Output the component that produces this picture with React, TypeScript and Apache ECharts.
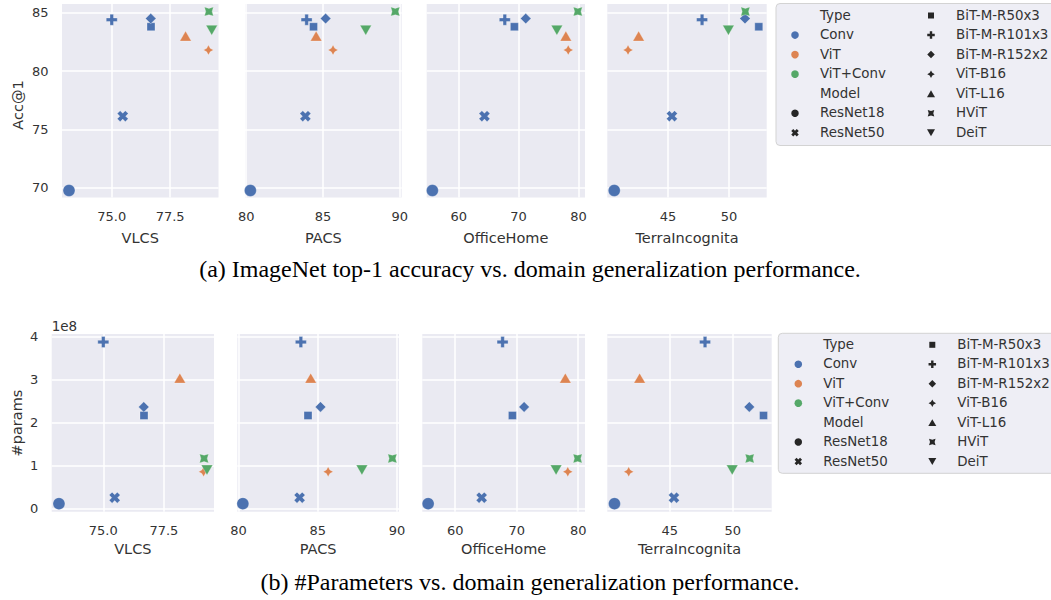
import React, { useEffect, useRef } from "react";
import * as echarts from "echarts";

// ---------------- data ----------------
const models = [
  "ResNet18",
  "ResNet50",
  "BiT-M-R50x3",
  "BiT-M-R101x3",
  "BiT-M-R152x2",
  "ViT-B16",
  "ViT-L16",
  "HViT",
  "DeiT",
];
const modelTypes = ["Conv", "Conv", "Conv", "Conv", "Conv", "ViT", "ViT", "ViT+Conv", "ViT+Conv"];
const typeNames = ["Conv", "ViT", "ViT+Conv"];

const acc1 = [69.76, 76.13, 83.8, 84.4, 84.5, 81.8, 83.0, 85.1, 83.5];
const numParams = [11.7e6, 25.6e6, 217e6, 388e6, 237e6, 86e6, 304e6, 117e6, 90e6];

const datasetNames = ["VLCS", "PACS", "OfficeHome", "TerraIncognita"];
const vlcs = [73.17, 75.47, 76.68, 75.0, 76.67, 79.14, 78.16, 79.16, 79.28];
const pacs = [80.27, 83.85, 84.38, 83.93, 85.17, 85.65, 84.55, 89.7, 87.78];
const officeHome = [55.6, 64.3, 69.3, 67.7, 71.2, 78.3, 77.9, 79.9, 76.4];
const terraIncognita = [40.6, 45.33, 52.45, 47.8, 51.32, 41.73, 42.6, 51.35, 49.96];

const xTickValues = [[75, 77.5], [80, 85, 90], [60, 70, 80], [45, 50]];
const xTickDecimals = [1, 0, 0, 0];
const accTicks = [70, 75, 80, 85];
const paramTicks = [0, 1e8, 2e8, 3e8, 4e8];

const yNames = ["Acc@1", "#params"];
const captions = [
  "(a) ImageNet top-1 accuracy vs. domain generalization performance.",
  "(b) #Parameters vs. domain generalization performance.",
];

// ---------------- layout / style ----------------
const datasetScores = [vlcs, pacs, officeHome, terraIncognita];
const rowValues = [acc1, numParams];
const rowTickValues = [accTicks, paramTicks];

const COLORS: Record<string, string> = { Conv: "#4C72B0", ViT: "#DD8452", "ViT+Conv": "#55A868" };
const FONT = "DejaVu Sans";
const TXT = "#333333";
const BG = "#EAEAF2";

const rowTop = [4, 334];
const rowHeight = [193.5, 177.7];
const gridLefts = [
  [62, 245, 426.7, 607.3],
  [51.7, 237.3, 422.3, 607.3],
];
const gridWidths = [
  [156.5, 156.7, 158.3, 159.4],
  [162.3, 161.7, 162.7, 164.4],
];
const xRanges = [
  [72.87, 79.57],
  [79.92, 90.12],
  [54.65, 81.1],
  [40.03, 53.1],
];
const yRanges = [
  [69.16, 85.75],
  [-7.1e6, 4.068e8],
];
const xNameGap = [33, 30];

type Pt = [number, number];
const plusPts = (w: number): Pt[] => [
  [-w, -1], [w, -1], [w, -w], [1, -w], [1, w], [w, w],
  [w, 1], [-w, 1], [-w, w], [-1, w], [-1, -w], [-w, -w],
];
const rotPts = (pts: Pt[], deg: number): Pt[] => {
  const a = (deg * Math.PI) / 180;
  const c = Math.cos(a);
  const s = Math.sin(a);
  return pts.map(([x, y]) => [x * c - y * s, x * s + y * c] as Pt);
};
const starPts = (n: number, inner: number, deg: number): Pt[] => {
  const out: Pt[] = [];
  for (let k = 0; k < 2 * n; k++) {
    const r = k % 2 ? inner : 1;
    const a = ((deg + (k * 180) / n - 90) * Math.PI) / 180;
    out.push([r * Math.cos(a), r * Math.sin(a)]);
  }
  return out;
};
const triUp: Pt[] = [[0, -1], [0.866, 0.5], [-0.866, 0.5]];
const triDown: Pt[] = triUp.map(([x, y]) => [x, -y] as Pt);
const diamondPts: Pt[] = [[0, -1], [1, 0], [0, 1], [-1, 0]];
const squarePts: Pt[] = [[-1, -1], [1, -1], [1, 1], [-1, 1]];

// marker per model (same order as models)
const markerShapes: (Pt[] | "circle")[] = [
  "circle",
  rotPts(plusPts(0.36), 45),
  squarePts,
  plusPts(0.32),
  diamondPts,
  starPts(4, 0.5, 0),
  triUp,
  starPts(4, 0.5, 45),
  triDown,
];
const markerSizes = [12, 11, 8, 11, 10.5, 10, 11.5, 9, 11.5];

const toPath = (pts: Pt[]) =>
  "path://" + pts.map((p, i) => (i ? "L" : "M") + (p[0] * 10).toFixed(3) + " " + (p[1] * 10).toFixed(3)).join(" ") + " Z";

const symbolOf = (i: number) => {
  const s = markerShapes[i];
  return s === "circle" ? "circle" : toPath(s);
};

function markerGraphic(i: number, cx: number, cy: number, size: number, fill: string): any {
  const s = markerShapes[i];
  if (s === "circle") {
    return { type: "circle", shape: { cx, cy, r: size / 2 }, style: { fill }, silent: true };
  }
  const xs = s.map((p) => p[0]);
  const ys = s.map((p) => p[1]);
  const minX = Math.min(...xs), maxX = Math.max(...xs);
  const minY = Math.min(...ys), maxY = Math.max(...ys);
  const k = size / Math.max(maxX - minX, maxY - minY);
  const mx = (minX + maxX) / 2, my = (minY + maxY) / 2;
  return {
    type: "polygon",
    shape: { points: s.map(([x, y]) => [cx + (x - mx) * k, cy + (y - my) * k]) },
    style: { fill },
    silent: true,
  };
}

const legendLayouts = [
  { boxX: 776, boxY: 3.5, boxH: 142, y0: 15, dy: 19.55, s1: 795, t1: 820, s2: 931, t2: 956 },
  { boxX: 778.3, boxY: 333.3, boxH: 140, y0: 344.3, dy: 19.45, s1: 798.3, t1: 823.3, s2: 932.3, t2: 957.3 },
];
const legendMarkerSizes = [7.5, 7.5, 6, 7.5, 7.5, 7.5, 8, 6.5, 8];

function legendGraphics(L: (typeof legendLayouts)[number]): any[] {
  const els: any[] = [];
  els.push({
    type: "rect",
    shape: { x: L.boxX, y: L.boxY, width: 300, height: L.boxH, r: 4 },
    style: { fill: "#EEEEF5", stroke: "#D3D3D3", lineWidth: 1 },
    silent: true,
  });
  const textEl = (x: number, y: number, text: string) => ({
    type: "text",
    x,
    y,
    style: {
      text,
      fill: TXT,
      font: `13.4px "${FONT}"`,
      fontSize: 13.4,
      fontFamily: FONT,
      align: "left",
      verticalAlign: "middle",
      textAlign: "left",
      textVerticalAlign: "middle",
    },
    silent: true,
  });
  // column 1: Type header, types, Model header, first two models
  const col1: { label: string; kind: "header" | "type" | "model"; idx: number }[] = [
    { label: "Type", kind: "header", idx: -1 },
    ...typeNames.map((t, i) => ({ label: t, kind: "type" as const, idx: i })),
    { label: "Model", kind: "header", idx: -1 },
    { label: models[0], kind: "model", idx: 0 },
    { label: models[1], kind: "model", idx: 1 },
  ];
  col1.forEach((e, r) => {
    const y = L.y0 + r * L.dy;
    if (e.kind === "type") {
      els.push({ type: "circle", shape: { cx: L.s1, cy: y + 0.5, r: 3.8 }, style: { fill: COLORS[typeNames[e.idx]] }, silent: true });
    } else if (e.kind === "model") {
      els.push(markerGraphic(e.idx, L.s1, y + 0.5, legendMarkerSizes[e.idx], "#262626"));
    }
    els.push(textEl(L.t1, y, e.label));
  });
  models.slice(2).forEach((m, r) => {
    const idx = r + 2;
    const y = L.y0 + r * L.dy;
    els.push(markerGraphic(idx, L.s2, y + 0.5, legendMarkerSizes[idx], "#262626"));
    els.push(textEl(L.t2, y, m));
  });
  return els;
}

function buildOption(): any {
  const grid: any[] = [];
  const xAxis: any[] = [];
  const yAxis: any[] = [];
  const series: any[] = [];
  for (let r = 0; r < 2; r++) {
    for (let c = 0; c < 4; c++) {
      const gi = r * 4 + c;
      grid.push({
        left: gridLefts[r][c],
        top: rowTop[r],
        width: gridWidths[r][c],
        height: rowHeight[r],
        show: true,
        backgroundColor: BG,
        borderWidth: 0,
        containLabel: false,
      });
      xAxis.push({
        type: "value",
        gridIndex: gi,
        min: xRanges[c][0],
        max: xRanges[c][1],
        name: datasetNames[c],
        nameLocation: "middle",
        nameGap: xNameGap[r],
        nameTextStyle: { color: TXT, fontSize: 14.5, fontFamily: FONT },
        axisLine: { show: false },
        axisTick: { show: false, customValues: xTickValues[c] },
        axisLabel: {
          customValues: xTickValues[c],
          formatter: (v: number) => v.toFixed(xTickDecimals[c]),
          color: TXT,
          fontSize: 13,
          fontFamily: FONT,
          margin: 12,
        },
        splitLine: { show: true, lineStyle: { color: "#FFFFFF", width: 1.5 } },
      });
      yAxis.push({
        type: "value",
        gridIndex: gi,
        min: yRanges[r][0],
        max: yRanges[r][1],
        axisLine: { show: false },
        axisTick: { show: false, customValues: rowTickValues[r] },
        axisLabel: {
          show: c === 0,
          customValues: rowTickValues[r],
          formatter: (v: number) => (r === 0 ? String(v) : String(Math.round(v / 1e8))),
          color: TXT,
          fontSize: 13,
          fontFamily: FONT,
          margin: 13.5,
        },
        splitLine: { show: true, lineStyle: { color: "#FFFFFF", width: 1.5 } },
      });
      series.push({
        type: "scatter",
        xAxisIndex: gi,
        yAxisIndex: gi,
        silent: true,
        symbolKeepAspect: true,
        data: models.map((m, i) => ({
          name: m,
          value: [datasetScores[c][i], rowValues[r][i]],
          symbol: symbolOf(i),
          symbolSize: markerSizes[i],
          itemStyle: { color: COLORS[modelTypes[i]], borderColor: "#FFFFFF", borderWidth: 0.3, opacity: 1 },
        })),
      });
    }
  }

  const textStyleBase = (size: number, family: string, fill: string) => ({
    fill,
    font: `${size}px "${family}"`,
    fontSize: size,
    fontFamily: family,
    align: "center",
    verticalAlign: "middle",
    textAlign: "center",
    textVerticalAlign: "middle",
  });

  const graphic: any[] = [
    ...legendGraphics(legendLayouts[0]),
    ...legendGraphics(legendLayouts[1]),
    {
      type: "text",
      x: 17.5,
      y: 105,
      rotation: Math.PI / 2,
      style: { text: yNames[0], ...textStyleBase(14.5, FONT, TXT) },
      silent: true,
    },
    {
      type: "text",
      x: 16.7,
      y: 423,
      rotation: Math.PI / 2,
      style: { text: yNames[1], ...textStyleBase(14.5, FONT, TXT) },
      silent: true,
    },
    {
      type: "text",
      x: 51.7,
      y: 326,
      style: { text: "1e8", ...textStyleBase(13.5, FONT, TXT), align: "left", textAlign: "left" },
      silent: true,
    },
    {
      type: "text",
      x: 530,
      y: 269,
      style: { text: captions[0], ...textStyleBase(24, "Liberation Serif", "#000000") },
      silent: true,
    },
    {
      type: "text",
      x: 530,
      y: 582,
      style: { text: captions[1], ...textStyleBase(24, "Liberation Serif", "#000000") },
      silent: true,
    },
  ];

  return {
    animation: false,
    backgroundColor: "#FFFFFF",
    textStyle: { fontFamily: FONT },
    grid,
    xAxis,
    yAxis,
    series,
    graphic,
  };
}

export default function App() {
  const ref = useRef<HTMLDivElement>(null);
  useEffect(() => {
    if (!ref.current) return;
    const chart = echarts.init(ref.current, null, { renderer: "svg" });
    chart.setOption(buildOption());
    return () => chart.dispose();
  }, []);
  return (
    <div
      ref={ref}
      style={{ position: "absolute", left: 0, top: 0, width: 1051, height: 600, background: "#FFFFFF" }}
    />
  );
}
